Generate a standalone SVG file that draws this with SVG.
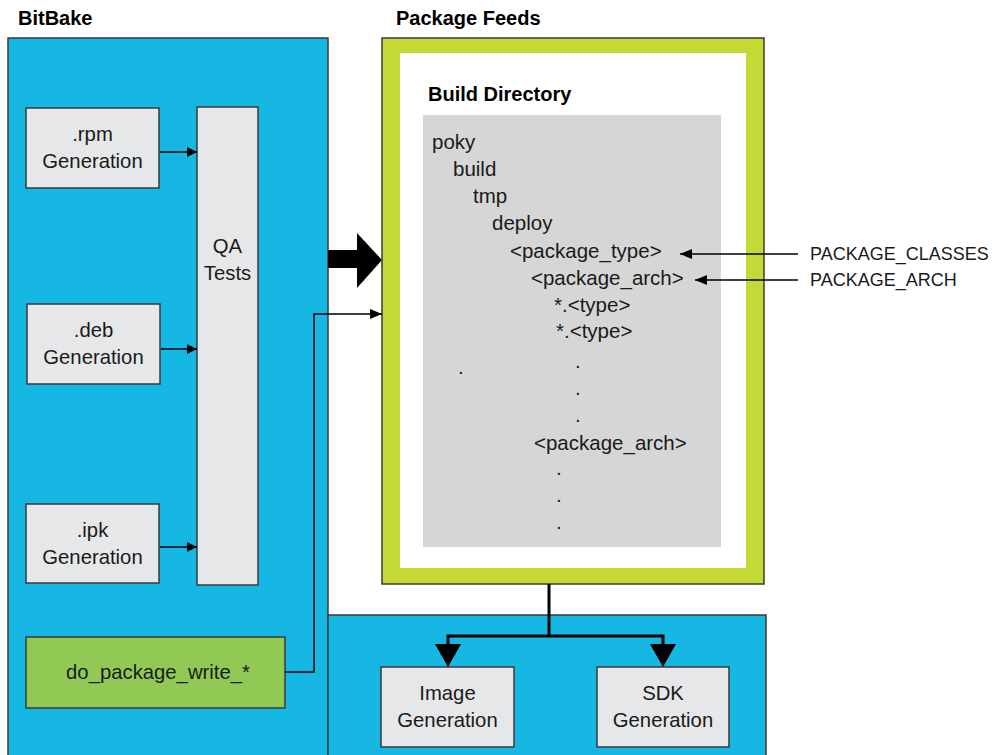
<svg xmlns="http://www.w3.org/2000/svg" width="995" height="755" viewBox="0 0 995 755">
<defs>
<style>
text{font-family:"Liberation Sans",Arial,sans-serif;fill:#1a1a1a}
.t{font-size:20.3px;text-anchor:middle}
.d{font-size:20.5px}
.h{font-size:20px;font-weight:bold;fill:#000}
.lab{font-size:18px}
.blue{fill:#17b7e4;stroke:#3a3a3a;stroke-width:1.5}
.node{fill:#e6e7e9;stroke:#3a3a3a;stroke-width:1.5}
.ln{fill:none;stroke:#000;stroke-width:1.5}
.thick{fill:none;stroke:#000;stroke-width:3}
</style>
<marker id="ah" viewBox="0 0 10 10" refX="10" refY="5" markerWidth="10" markerHeight="10" markerUnits="userSpaceOnUse" orient="auto">
<path d="M0,0 L10,5 L0,10 z" fill="#000"/>
</marker>
<marker id="ah2" viewBox="0 0 12 10" refX="12" refY="5" markerWidth="12" markerHeight="10" markerUnits="userSpaceOnUse" orient="auto">
<path d="M0,0 L12,5 L0,10 z" fill="#000"/>
</marker>
</defs>
<rect width="995" height="755" fill="#fff"/>

<g id="bitbake">
<rect class="blue" x="8" y="38" width="320" height="730"/>
<text class="h" x="18" y="25">BitBake</text>
</g>
<g id="deploy-area">
<rect class="blue" x="328" y="615" width="438" height="150"/>
</g>
<g id="package-feeds">
<rect x="382" y="38" width="382" height="546" fill="#c4d933" stroke="#3a3a3a" stroke-width="1.5"/>
<rect x="400" y="53" width="346" height="515" fill="#fff"/>
<text class="h" x="396" y="25">Package Feeds</text>
</g>
<g id="build-directory">
<text class="h" x="428" y="101">Build Directory</text>
<rect x="423" y="115" width="298" height="432" fill="#d6d6d6"/>
<text class="d" x="432" y="149">poky</text>
<text class="d" x="453" y="176">build</text>
<text class="d" x="473" y="203">tmp</text>
<text class="d" x="492" y="230">deploy</text>
<text class="d" x="510" y="258">&lt;package_type&gt;</text>
<text class="d" x="531" y="285">&lt;package_arch&gt;</text>
<text class="d" x="554" y="312">*.&lt;type&gt;</text>
<text class="d" x="556" y="338">*.&lt;type&gt;</text>
<text class="d" x="458" y="374">.</text>
<text class="d" x="575" y="368">.</text>
<text class="d" x="575" y="395">.</text>
<text class="d" x="575" y="422">.</text>
<text class="d" x="534" y="450">&lt;package_arch&gt;</text>
<text class="d" x="556" y="475">.</text>
<text class="d" x="556" y="502">.</text>
<text class="d" x="556" y="529">.</text>
</g>
<g id="rpm">
<rect class="node" x="26" y="108" width="133" height="80"/>
<text class="t" x="92.5" y="141">.rpm</text>
<text class="t" x="92.5" y="168">Generation</text>
</g>
<g id="deb">
<rect class="node" x="27" y="304" width="133" height="80"/>
<text class="t" x="93.5" y="337">.deb</text>
<text class="t" x="93.5" y="364">Generation</text>
</g>
<g id="ipk">
<rect class="node" x="26" y="504" width="133" height="79"/>
<text class="t" x="92.5" y="537">.ipk</text>
<text class="t" x="92.5" y="564">Generation</text>
</g>
<g id="qa">
<rect class="node" x="197" y="107" width="61" height="478"/>
<text class="t" x="227.5" y="253">QA</text>
<text class="t" x="227.5" y="280">Tests</text>
</g>
<g id="do-package-write">
<rect x="26" y="637" width="259" height="71" fill="#92c954" stroke="#3a3a3a" stroke-width="1.5"/>
<text class="t" x="158" y="679">do_package_write_*</text>
</g>
<g id="image-gen">
<rect class="node" x="381" y="667" width="133" height="80"/>
<text class="t" x="447.5" y="700">Image</text>
<text class="t" x="447.5" y="727">Generation</text>
</g>
<g id="sdk-gen">
<rect class="node" x="597" y="667" width="132" height="80"/>
<text class="t" x="663" y="700">SDK</text>
<text class="t" x="663" y="727">Generation</text>
</g>
<g id="labels">
<text class="lab" x="810" y="260">PACKAGE_CLASSES</text>
<text class="lab" x="810" y="286">PACKAGE_ARCH</text>
</g>
<g id="connectors">
<line class="ln" x1="160" y1="152" x2="197" y2="152" marker-end="url(#ah)"/>
<line class="ln" x1="161" y1="349" x2="197" y2="349" marker-end="url(#ah)"/>
<line class="ln" x1="160" y1="547" x2="197" y2="547" marker-end="url(#ah)"/>
<polyline class="ln" points="285,672 314,672 314,314 382,314" marker-end="url(#ah2)"/>
<polygon points="328,250 357,250 357,233 382,260 357,288 357,268 328,268" fill="#000"/>
<line class="ln" x1="798" y1="254" x2="680" y2="254" marker-end="url(#ah2)"/>
<line class="ln" x1="798" y1="280" x2="695" y2="280" marker-end="url(#ah2)"/>
<polyline class="thick" points="549,584 549,636"/>
<polyline class="thick" points="448,646 448,636 663,636 663,646"/>
<polygon points="435,644 461,644 448,667" fill="#000"/>
<polygon points="650,644 676,644 663,667" fill="#000"/>
</g>
</svg>
